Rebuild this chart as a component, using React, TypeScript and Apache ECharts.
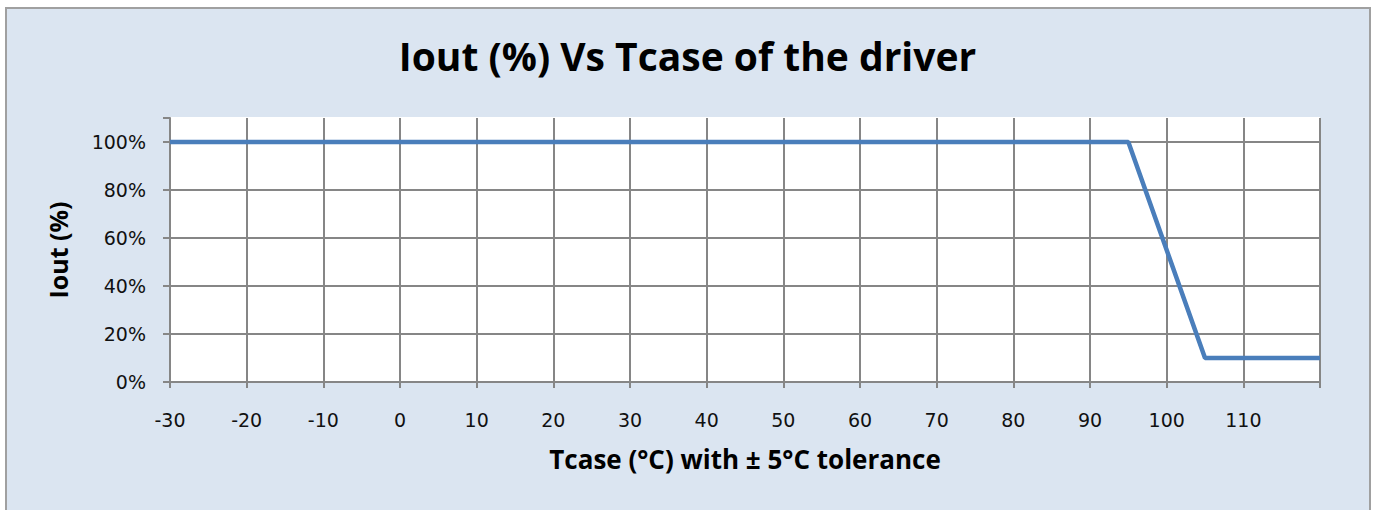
import React, { useEffect, useRef } from "react";
import * as echarts from "echarts";

const titleText = "Iout (%) Vs Tcase of the driver";
const xName = "Tcase (°C) with ± 5°C tolerance";
const yName = "Iout (%)";
const tcase = [-30, 95, 105, 120];
const ioutPct = [100, 100, 10, 10];

export default function App() {
  const ref = useRef<HTMLDivElement>(null);
  useEffect(() => {
    if (!ref.current) return;
    const chart = echarts.init(ref.current, null, { renderer: "svg" });
    const labelFont = "DejaVu Sans";
    chart.setOption({
      animation: false,
      backgroundColor: "#ffffff",
      graphic: [
        {
          type: "rect",
          z: -10,
          silent: true,
          shape: { x: 6, y: 8, width: 1364, height: 520 },
          style: { fill: "#dbe5f1", stroke: "#a0a0a0", lineWidth: 2 },
        },
      ],
      title: {
        text: titleText,
        left: "center",
        top: 31,
        textStyle: {
          fontFamily: "Open Sans",
          fontWeight: "bold",
          fontSize: 39,
          color: "#000",
        },
      },
      grid: {
        left: 170,
        right: 55,
        top: 118,
        bottom: 128,
        show: true,
        backgroundColor: "#ffffff",
        borderWidth: 0,
      },
      xAxis: {
        type: "value",
        min: -30,
        max: 120,
        interval: 10,
        name: xName,
        nameLocation: "middle",
        nameGap: 64,
        nameTextStyle: {
          fontFamily: "Open Sans",
          fontWeight: "bold",
          fontSize: 26,
          color: "#000",
        },
        axisLine: { show: true, onZero: false, lineStyle: { color: "#868686", width: 2 } },
        axisTick: { show: true, length: 6, lineStyle: { color: "#868686", width: 2 } },
        axisLabel: {
          margin: 28,
          fontFamily: labelFont,
          fontSize: 19,
          color: "#111",
          formatter: (v: number) => (v === 120 ? "" : String(v)),
        },
        splitLine: { show: true, lineStyle: { color: "#868686", width: 2 } },
      },
      yAxis: {
        type: "value",
        min: 0,
        max: 110,
        interval: 20,
        name: yName,
        nameLocation: "middle",
        nameGap: 100,
        nameRotate: 90,
        nameTextStyle: {
          fontFamily: "Open Sans",
          fontWeight: "bold",
          fontSize: 25,
          color: "#000",
        },
        axisLine: { show: true, onZero: false, lineStyle: { color: "#868686", width: 2 } },
        axisTick: { show: true, length: 7, lineStyle: { color: "#868686", width: 2 } },
        axisLabel: {
          margin: 24,
          fontFamily: labelFont,
          fontSize: 19,
          color: "#111",
          formatter: (v: number) => (v > 100 ? "" : v + "%"),
        },
        splitLine: {
          show: true,
          lineStyle: {
            color: ["#868686", "#868686", "#868686", "#868686", "#868686", "#868686", "#ffffff"],
            width: 2,
          },
        },
      },
      series: [
        {
          type: "line",
          data: tcase.map((t, i) => [t, ioutPct[i]]),
          showSymbol: false,
          symbol: "none",
          lineStyle: { color: "#4a7ebb", width: 4.5 },
        },
      ],
    });
    return () => chart.dispose();
  }, []);
  return (
    <div
      ref={ref}
      style={{ position: "fixed", left: 0, top: 0, width: 1375, height: 510 }}
    />
  );
}
